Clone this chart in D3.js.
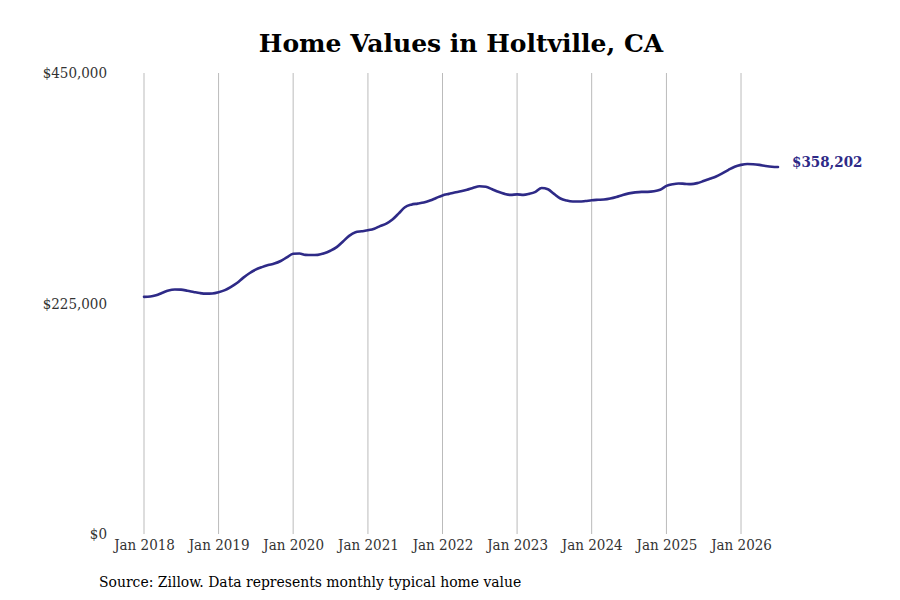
<!DOCTYPE html>
<html>
<head>
<meta charset="utf-8">
<script src="https://cdn.jsdelivr.net/npm/d3@7"></script>
<style>
  html, body { margin: 0; padding: 0; background: #fff; }
  svg { display: block; }
  .cond { font-family: 'DejaVu Serif Condensed', 'DejaVu Serif', serif; font-stretch: condensed; }
</style>
</head>
<body>
<svg id="chart" width="900" height="600"></svg>
<script>
const titleText = "Home Values in Holtville, CA";
const sourceText = "Source: Zillow. Data represents monthly typical home value";
const startYear = 2018;
const startMonth = 0; // January
// Monthly typical home values (thousands of USD), Jan 2018 – Jul 2026
const values = [
  231.5, 231.8, 233.0, 235.5, 237.8, 238.7, 238.5, 237.5, 236.3, 235.2, 234.6, 234.8,
  236.0, 238.0, 241.0, 245.0, 250.0, 254.5, 258.0, 260.5, 262.5, 264.0, 266.5, 270.0,
  273.5, 273.8, 272.5, 272.3, 272.5, 274.0, 276.5, 280.0, 285.5, 291.0, 294.5, 295.5,
  296.5, 298.0, 300.5, 303.0, 307.0, 313.0, 319.0, 321.5, 322.5, 323.5, 325.5, 328.0,
  330.5, 332.0, 333.3, 334.5, 336.0, 338.0, 339.5, 339.0, 336.5, 334.0, 332.0, 331.0,
  331.5, 331.0, 332.0, 334.0, 337.8, 336.5, 332.0, 327.5, 325.5, 324.6, 324.5, 325.0,
  325.8, 326.2, 326.5, 327.5, 329.0, 331.0, 332.5, 333.5, 334.0, 334.0, 334.5, 336.0,
  339.8, 341.5, 342.2, 341.8, 341.5, 342.5, 344.5, 346.8, 349.0, 352.0, 355.5, 358.5,
  360.3, 361.2, 361.0, 360.3, 359.3, 358.5, 358.202
];
const lastLabel = "$358,202";
const yTicks = [0, 225000, 450000];
const xTickYears = [2018, 2019, 2020, 2021, 2022, 2023, 2024, 2025, 2026];

const data = values.map((v, i) => ({
  date: new Date(startYear, startMonth + i, 1),
  value: v * 1000
}));

const svg = d3.select("#chart");

const x = d3.scaleTime()
  .domain([new Date(2018, 0, 1), data[data.length - 1].date])
  .range([144, 778]);
const y = d3.scaleLinear().domain([0, 450000]).range([534, 73]);

const lineColor = "#2e2a87";

// Title
svg.append("text")
  .attr("x", 461).attr("y", 52)
  .attr("text-anchor", "middle")
  .attr("font-family", "'DejaVu Serif', serif")
  .attr("font-weight", "bold")
  .attr("font-size", 25)
  .attr("fill", "#000")
  .text(titleText);

// Vertical grid
svg.append("g").selectAll("line")
  .data(xTickYears)
  .join("line")
  .attr("x1", d => x(new Date(d, 0, 1)))
  .attr("x2", d => x(new Date(d, 0, 1)))
  .attr("y1", y(450000))
  .attr("y2", y(0))
  .attr("stroke", "#bbbbbb")
  .attr("stroke-width", 1);

// X ticks
const xAxis = d3.axisBottom(x)
  .tickValues(xTickYears.map(yr => new Date(yr, 0, 1)))
  .tickFormat(d3.timeFormat("Jan %Y"))
  .tickSize(0)
  .tickPadding(5);

const gx = svg.append("g").attr("transform", "translate(0,534)").call(xAxis);
gx.select(".domain").remove();
gx.attr("font-family", null);
gx.selectAll("text")
  .attr("class", "cond")
  .attr("font-size", 15)
  .attr("fill", "#333");

// Y axis labels
const yAxis = d3.axisLeft(y)
  .tickValues(yTicks)
  .tickFormat(d => "$" + d3.format(",")(d))
  .tickSize(0)
  .tickPadding(0);
const gy = svg.append("g").attr("transform", "translate(107,0)").call(yAxis);
gy.select(".domain").remove();
gy.attr("font-family", null);
gy.selectAll("text")
  .attr("class", "cond")
  .attr("font-size", 15)
  .attr("fill", "#333");

// Line
const line = d3.line()
  .x(d => x(d.date))
  .y(d => y(d.value))
  .curve(d3.curveMonotoneX);

svg.append("path")
  .datum(data)
  .attr("fill", "none")
  .attr("stroke", lineColor)
  .attr("stroke-width", 2.6)
  .attr("stroke-linejoin", "round")
  .attr("stroke-linecap", "round")
  .attr("d", line);

// End label
const last = data[data.length - 1];
svg.append("text")
  .attr("class", "cond")
  .attr("x", x(last.date) + 14)
  .attr("y", y(last.value) - 5)
  .attr("dy", "0.35em")
  .attr("font-weight", "bold")
  .attr("font-size", 15)
  .attr("fill", lineColor)
  .text(lastLabel);

// Source
svg.append("text")
  .attr("class", "cond")
  .attr("x", 99).attr("y", 587)
  .attr("font-size", 15.5)
  .attr("fill", "#000")
  .text(sourceText);
</script>
</body>
</html>
